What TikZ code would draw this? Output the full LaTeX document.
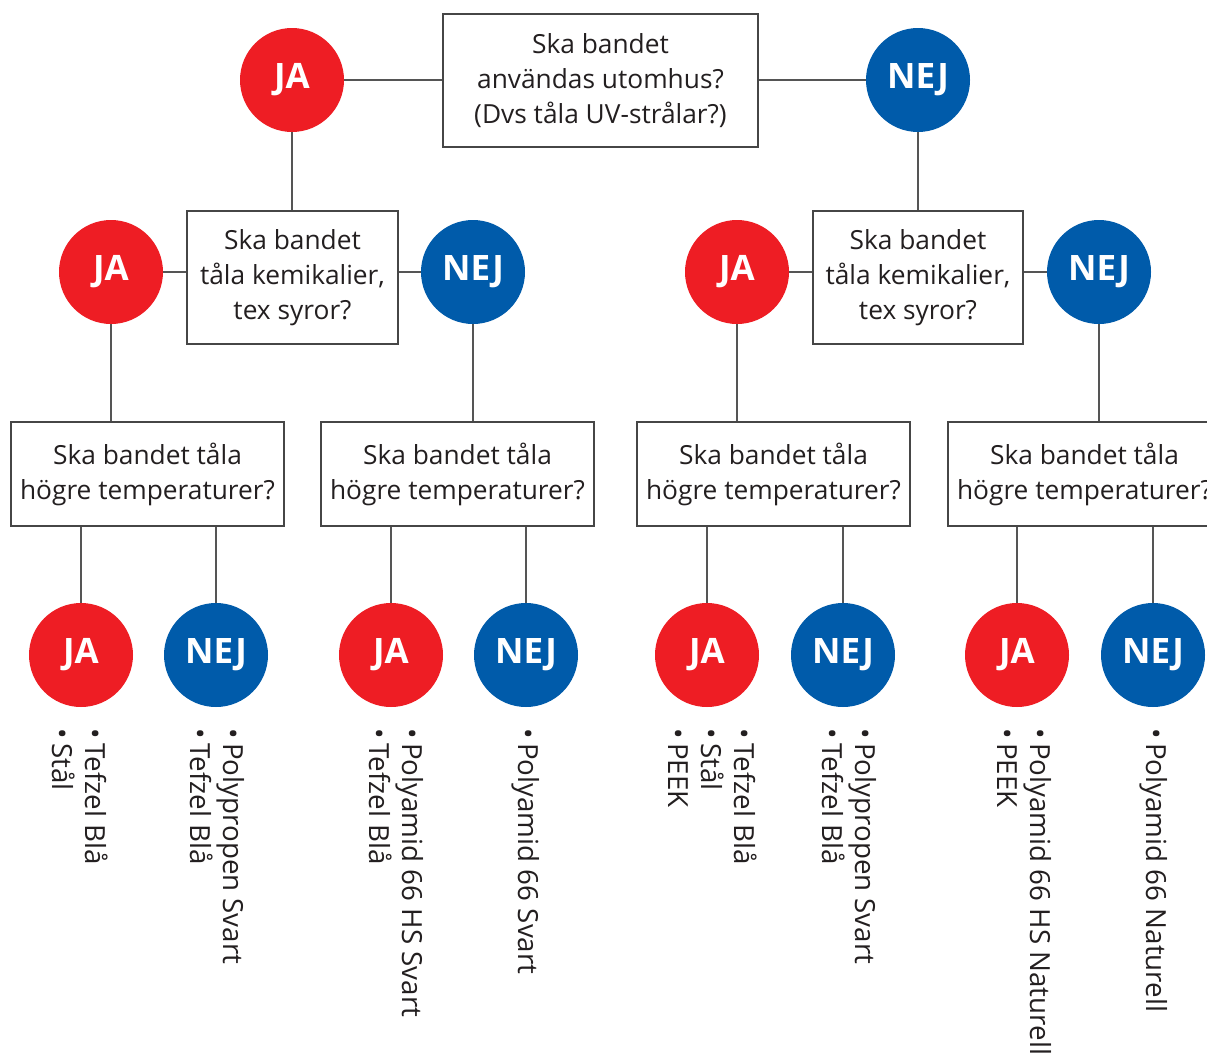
\documentclass[tikz,border=0pt]{standalone}
\usepackage{fontspec}
\setmainfont{Open Sans}
\definecolor{jared}{RGB}{238,29,36}
\definecolor{nejblue}{RGB}{0,91,170}
\definecolor{linegray}{RGB}{85,85,85}
\definecolor{boxgray}{RGB}{70,70,70}
\definecolor{txt}{RGB}{35,31,32}
\begin{document}
\begin{tikzpicture}[x=1pt,y=-1pt,
  qbox/.style={draw=boxgray, line width=1.2pt, fill=white, align=center, text=txt,
    font=\fontsize{26.3}{35}\selectfont, inner sep=0pt},
  ja/.style={circle, fill=jared, minimum size=104pt, inner sep=0pt, text=white,
    font=\fontsize{35}{35}\selectfont\bfseries},
  nej/.style={circle, fill=nejblue, minimum size=104pt, inner sep=0pt, text=white,
    font=\fontsize{35}{35}\selectfont\bfseries},
  lst/.style={rotate=-90, anchor=north west, align=left, inner sep=0pt, text=txt,
    font=\fontsize{27.7}{33}\selectfont},
  conn/.style={draw=linegray, line width=1.3pt}
]
\fill[white] (0,0) rectangle (1207,1052);
\useasboundingbox (0,0) rectangle (1207,1052);

% level 1
\node[qbox, minimum width=315pt, minimum height=133pt] (b1) at (600.5,80.5)
  {Ska bandet\\användas utomhus?\\(Dvs tåla UV-strålar?)};
\node[ja] (j0) at (292,80) {JA};
\node[nej] (n0) at (918,80) {NEJ};

% level 2
\node[qbox, minimum width=211pt, minimum height=133pt] (b2) at (292.5,277.5)
  {Ska bandet\\tåla kemikalier,\\tex syror?};
\node[qbox, minimum width=210pt, minimum height=133pt] (b3) at (918,277.5)
  {Ska bandet\\tåla kemikalier,\\tex syror?};
\node[ja] (j1) at (111,272) {JA};
\node[nej] (n1) at (473,272) {NEJ};
\node[ja] (j2) at (737,272) {JA};
\node[nej] (n2) at (1099,272) {NEJ};

% level 3
\node[qbox, minimum width=273pt, minimum height=104pt] (bA) at (147.5,474)
  {Ska bandet tåla\\högre temperaturer?};
\node[qbox, minimum width=273pt, minimum height=104pt] (bB) at (457.5,474)
  {Ska bandet tåla\\högre temperaturer?};
\node[qbox, minimum width=273pt, minimum height=104pt] (bC) at (773.5,474)
  {Ska bandet tåla\\högre temperaturer?};
\node[qbox, minimum width=273pt, minimum height=104pt] (bD) at (1084.5,474)
  {Ska bandet tåla\\högre temperaturer?};

% level 4
\node[ja] (ja1) at (81,655) {JA};
\node[nej] (nj1) at (216,655) {NEJ};
\node[ja] (ja2) at (391,655) {JA};
\node[nej] (nj2) at (526,655) {NEJ};
\node[ja] (ja3) at (707,655) {JA};
\node[nej] (nj3) at (843,655) {NEJ};
\node[ja] (ja4) at (1017,655) {JA};
\node[nej] (nj4) at (1153,655) {NEJ};

% connectors
\draw[conn] (j0) -- (j0 -| b1.west);
\draw[conn] (n0) -- (n0 -| b1.east);
\draw[conn] (j0) -- (j0 |- b2.north);
\draw[conn] (n0) -- (n0 |- b3.north);
\draw[conn] (j1) -- (j1 -| b2.west);
\draw[conn] (n1) -- (n1 -| b2.east);
\draw[conn] (j2) -- (j2 -| b3.west);
\draw[conn] (n2) -- (n2 -| b3.east);
\draw[conn] (j1) -- (j1 |- bA.north);
\draw[conn] (n1) -- (n1 |- bB.north);
\draw[conn] (j2) -- (j2 |- bC.north);
\draw[conn] (n2) -- (n2 |- bD.north);
\draw[conn] (ja1) -- (ja1 |- bA.south);
\draw[conn] (nj1) -- (nj1 |- bA.south);
\draw[conn] (ja2) -- (ja2 |- bB.south);
\draw[conn] (nj2) -- (nj2 |- bB.south);
\draw[conn] (ja3) -- (ja3 |- bC.south);
\draw[conn] (nj3) -- (nj3 |- bC.south);
\draw[conn] (ja4) -- (ja4 |- bD.south);
\draw[conn] (nj4) -- (nj4 |- bD.south);

% lists
\node[lst] (t1) at (108,728) {•\,Tefzel Blå\\•\,Stål};
\node[lst] (t2) at (245,728) {•\,Polypropen Svart\\•\,Tefzel Blå};
\node[lst] (t3) at (424,728) {•\,Polyamid 66 HS Svart\\•\,Tefzel Blå};
\node[lst] (t4) at (540,728) {•\,Polyamid 66 Svart};
\node[lst] (t5) at (757,728) {•\,Tefzel Blå\\•\,Stål\\•\,PEEK};
\node[lst] (t6) at (877,728) {•\,Polypropen Svart\\•\,Tefzel Blå};
\node[lst] (t7) at (1052,728) {•\,Polyamid 66 HS Naturell\\•\,PEEK};
\node[lst] (t8) at (1168,728) {•\,Polyamid 66 Naturell};
\end{tikzpicture}
\end{document}
